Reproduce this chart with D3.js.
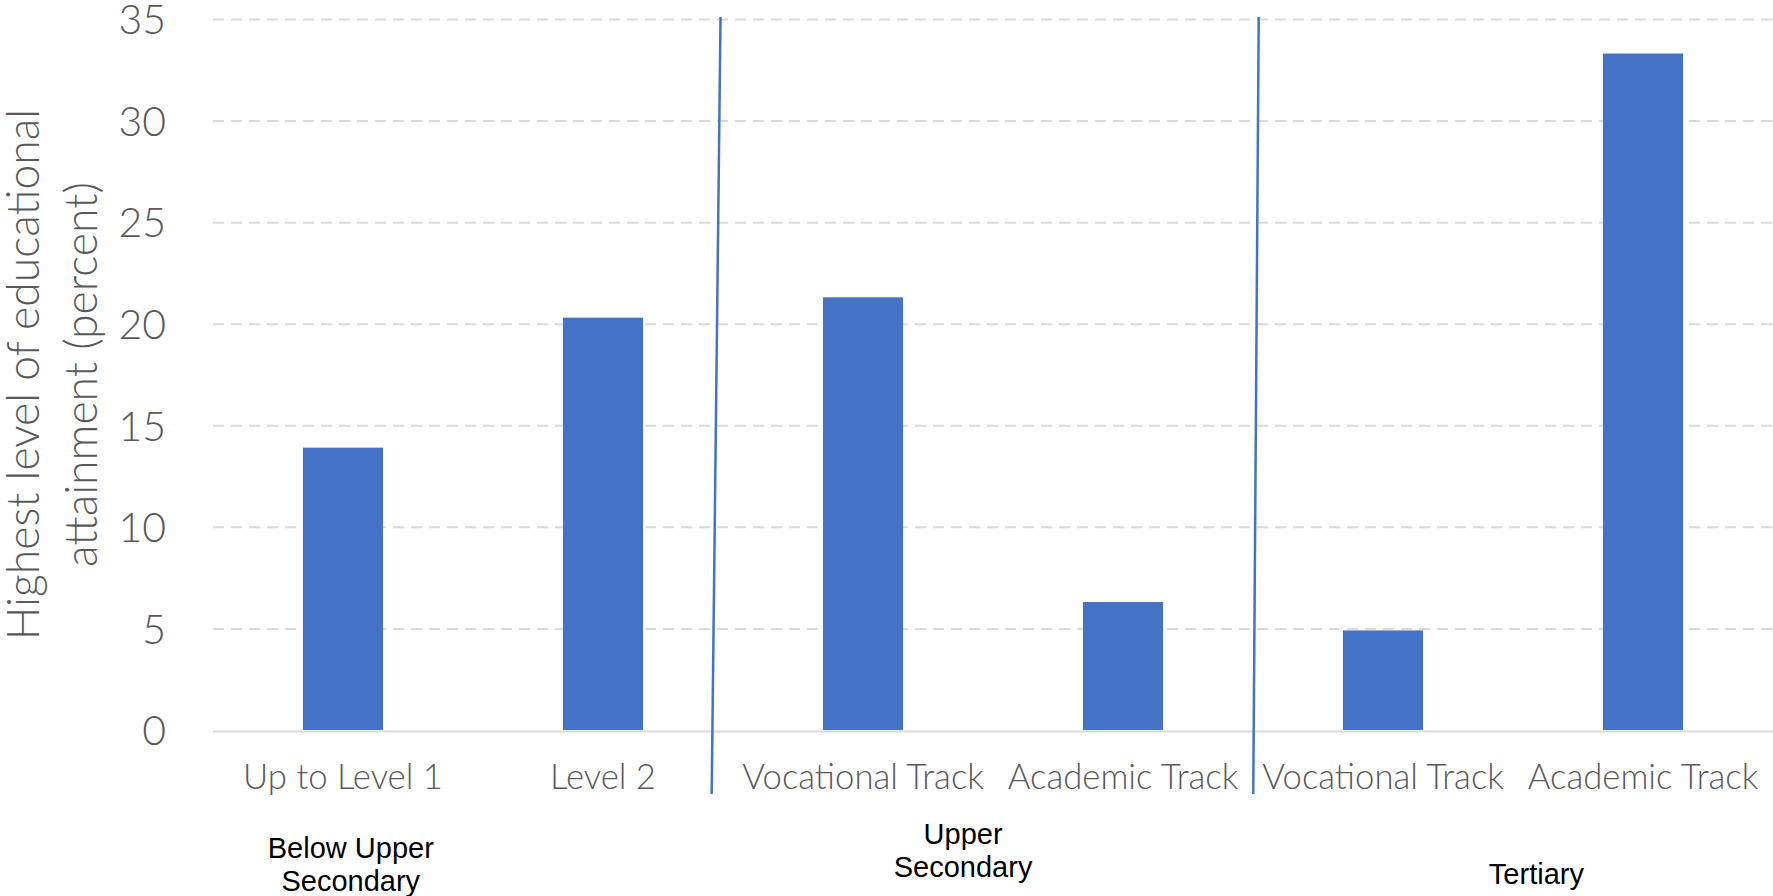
<!DOCTYPE html>
<html><head><meta charset="utf-8">
<script src="https://cdn.jsdelivr.net/npm/d3@7"></script>
<style>html,body{margin:0;padding:0;background:#fff;overflow:hidden}svg{display:block}</style>
</head><body><svg id="chart" width="1773" height="896"></svg>
<script>
// ---- data ----
const categoryLabels = ["Up to Level 1", "Level 2", "Vocational Track", "Academic Track", "Vocational Track", "Academic Track"];
const values = [13.9, 20.3, 21.3, 6.3, 4.9, 33.3];
const yTicks = [0, 5, 10, 15, 20, 25, 30, 35];
const groupLabelLines = [["Below Upper", "Secondary"], ["Upper", "Secondary"], ["Tertiary"]];
const groupBoundaries = [2, 4];
const axisTitleLines = ["Highest level of educational", "attainment (percent)"];

// ---- layout ----
const plot = {left: 213, right: 1773, top: 19, bottom: 730};
const lightFont = "Lato, 'Open Sans', sans-serif";
const grey = "#595959";
const barColor = "#4472C4";

const svg = d3.select("#chart");
const x = d3.scaleBand().domain(d3.range(values.length))
  .range([plot.left, plot.right]).paddingInner(0.692).paddingOuter(0.346);
const y = d3.scaleLinear().domain([0, 35]).range([plot.bottom, plot.top]);

// y axis with gridlines
const yAxis = svg.append("g").attr("transform", `translate(${plot.left},0)`)
  .call(d3.axisLeft(y).tickValues(yTicks).tickSizeInner(-(plot.right - plot.left)).tickSizeOuter(0).tickPadding(47));
yAxis.select(".domain").remove();
yAxis.selectAll(".tick line")
  .attr("stroke", "#D9D9D9").attr("stroke-width", 2)
  .attr("stroke-dasharray", d => d === 0 ? null : "11,7")
  .attr("opacity", d => d === 0 ? 0 : 1);
yAxis.selectAll(".tick text")
  .attr("fill", grey).style("font-family", lightFont).style("font-weight", 300)
  .style("font-size", "41px").attr("dy", "0.36em");

// bars
svg.append("g").selectAll("rect").data(values).join("rect")
  .attr("x", (d, i) => x(i)).attr("width", x.bandwidth())
  .attr("y", d => y(d)).attr("height", d => y(0) - y(d))
  .attr("fill", barColor);

// baseline
svg.append("line").attr("x1", plot.left).attr("x2", plot.right)
  .attr("y1", y(0) + 1.5).attr("y2", y(0) + 1.5)
  .attr("stroke", "#D9D9D9").attr("stroke-width", 2);

// x axis labels
const xAxis = svg.append("g").attr("transform", `translate(0,${y(0)})`)
  .call(d3.axisBottom(x).tickFormat(i => categoryLabels[i]).tickSize(0));
xAxis.select(".domain").remove();
xAxis.selectAll(".tick text")
  .attr("y", 59).attr("dy", 0)
  .attr("fill", grey).style("font-family", lightFont).style("font-weight", 300)
  .style("font-size", "34.7px");

// group separators (slanted lines)
const sepOffsets = [{top: -0.048, bottom: -0.082}, {top: 0.022, bottom: 0.001}];
svg.append("g").selectAll("line").data(groupBoundaries).join("line")
  .attr("x1", (k, i) => plot.left + (k + sepOffsets[i].top) * x.step())
  .attr("x2", (k, i) => plot.left + (k + sepOffsets[i].bottom) * x.step())
  .attr("y1", plot.top - 2).attr("y2", 794)
  .attr("stroke", barColor).attr("stroke-width", 2.5);

// group labels
const groupPos = [{u: 0.53, y: 858}, {u: 2.885, y: 844}, {u: 5.09, y: 884}];
groupLabelLines.forEach((lines, gi) => {
  const t = svg.append("text")
    .attr("x", plot.left + groupPos[gi].u * x.step())
    .attr("y", groupPos[gi].y)
    .attr("text-anchor", "middle")
    .style("font-family", "'Liberation Sans', Arial, sans-serif")
    .style("font-size", "29px").attr("fill", "#000");
  lines.forEach((ln, li) => t.append("tspan")
    .attr("x", plot.left + groupPos[gi].u * x.step())
    .attr("dy", li === 0 ? 0 : 33).text(ln));
});

// y axis title
const titleBaselines = [39, 97];
axisTitleLines.forEach((ln, i) => {
  svg.append("text")
    .attr("transform", `translate(${titleBaselines[i]},${(plot.top + plot.bottom) / 2}) rotate(-90)`)
    .attr("text-anchor", "middle")
    .attr("fill", grey).style("font-family", lightFont).style("font-weight", 300)
    .style("font-size", "44.5px").text(ln);
});
</script></body></html>
